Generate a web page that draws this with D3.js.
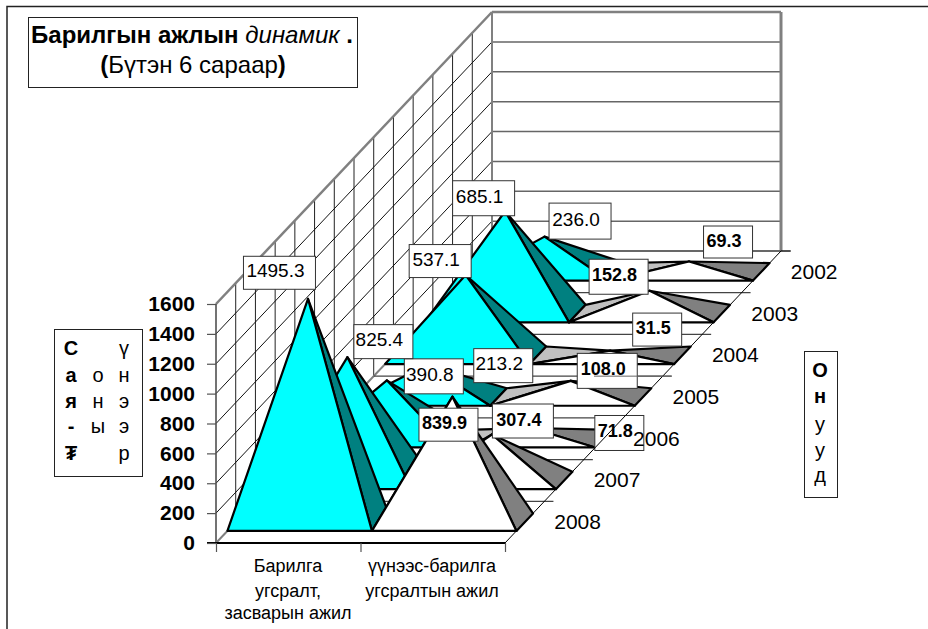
<!DOCTYPE html>
<html>
<head>
<meta charset="utf-8">
<script src="https://cdn.jsdelivr.net/npm/d3@7"></script>
<style>
html,body{margin:0;padding:0;background:#fff;}
text{font-family:"Liberation Sans",Arial,sans-serif;fill:#000;}
</style>
</head>
<body>
<script>
var years = ["2002","2003","2004","2005","2006","2007","2008"];
var categories = [["Барилга","угсралт,","засварын ажил"],["үүнээс-барилга","угсралтын ажил"]];
var repairWork = [236.0,685.1,537.1,213.2,390.8,825.4,1495.3];
var newBuildWork = [69.3,152.8,31.5,108.0,71.8,307.4,839.9];
var valueTicks = [0,200,400,600,800,1000,1200,1400,1600];

// label boxes are hand placed in the original, kept as offset from the apex: dx,dy,w,h
var repairBoxes = [[4,-34,62,36],[-53,-31,62,35],[-57,-31,62,33],[47,-17,59,34],[17,-22,59,35],[6,-33,59,34],[-65,-43,72,33]];
var newBuildBoxes = [[14,-36,49,32],[-61,-32,59,35],[22,-38,49,33],[6,-28,60,35],[63,-13,49,35],[0,-31,61,34],[-34,11,59,33]];

var width = 928, height = 629;
var svg = d3.select("body").append("svg").attr("width",width).attr("height",height).style("display","block");

var xScale = d3.scaleLinear().domain([0,2]).range([216,505]);
var yScale = d3.scaleLinear().domain([0,1600]).range([543,304]);
var zx = d3.scaleLinear().domain([0,7]).range([0,276]);   // depth -> px right
var zy = d3.scaleLinear().domain([0,7]).range([0,292]);   // depth -> px up

function pt(x,v,z){ return [xScale(x)+zx(z), yScale(v)-zy(z)]; }
function poly(g,pts,fill){
	g.append("polygon").attr("points",pts.map(function(p){ return p.join(","); }).join(" "))
		.attr("fill",fill).attr("stroke","#000").attr("stroke-width",2.2).attr("stroke-linejoin","round");
}
function seg(g,a,b,col,w){
	g.append("line").attr("x1",a[0]).attr("y1",a[1]).attr("x2",b[0]).attr("y2",b[1]).attr("stroke",col).attr("stroke-width",w);
}

//outer frame, only top and left show
svg.append("path").attr("d","M928,6.5H7V629").attr("fill","none").attr("stroke","#222").attr("stroke-width",1.5);

var walls = svg.append("g");
walls.append("polygon").attr("points",[pt(0,0,0),pt(0,1600,0),pt(0,1600,7),pt(0,0,7)].join(" ")).attr("fill","#fff");

//left wall grid
d3.range(1,14).forEach(function(k){ seg(walls,pt(0,0,k/2),pt(0,1600,k/2),"#222",1); });
valueTicks.forEach(function(v){ seg(walls,pt(0,v,0),pt(0,v,7),"#111",1); });
//back wall grid
valueTicks.forEach(function(v){ seg(walls,pt(0,v,7),pt(2,v,7),"#666",1.5); });
seg(walls,pt(0,1600,0),pt(0,1600,7),"#808080",2.5);
seg(walls,pt(0,1600,7),pt(2,1600,7),"#808080",2.5);
seg(walls,pt(0,0,7),pt(0,1600,7),"#808080",2);
seg(walls,pt(2,0,7),pt(2,1600,7),"#808080",3);
seg(walls,pt(0,0,0),pt(0,1600,0),"#444",1.5);
seg(walls,pt(0,0,0),pt(0,0,7),"#808080",2);

//floor lines run a bit past the right edge as depth ticks
d3.range(1,8).forEach(function(i){
	var end = pt(2,0,i);
	seg(walls,pt(0,0,i),[end[0]+9,end[1]],"#444",1.2);
});

//series, back to front
var depthFront = 0.29, depthMid = 0.5, depthBack = 0.71;
var marks = svg.append("g");
years.forEach(function(y,n){
	var z = years.length-1-n;
	var g = marks.append("g").attr("class","y"+y);
	var a1 = pt(0.5,repairWork[n],z+depthMid), a2 = pt(1.5,newBuildWork[n],z+depthMid);
	poly(g,[a1,pt(1,0,z+depthFront),pt(1,0,z+depthBack)],"#008080");
	poly(g,[pt(1,0,z+depthBack),pt(1,0,z+depthFront),a2],"#C0C0C0");
	poly(g,[a2,pt(2,0,z+depthFront),pt(2,0,z+depthBack)],"#808080");
	poly(g,[pt(0,0,z+depthFront),a1,pt(1,0,z+depthFront)],"#00FFFF");
	poly(g,[pt(1,0,z+depthFront),a2,pt(2,0,z+depthFront)],"#FFFFFF");
});

//axes
seg(svg,[207,yScale(0)],pt(2,0,0),"#000",2);
var yAxis = d3.axisLeft(yScale).tickValues(valueTicks).tickSize(9).tickPadding(12).tickFormat(d3.format("d"));
var yg = svg.append("g").attr("transform","translate(216,0)").call(yAxis);
yg.select(".domain").remove();
yg.selectAll("line").attr("stroke","#555").attr("stroke-width",1.2);
yg.selectAll("text").attr("font-size",21).attr("font-weight","bold").style("font-family",'"Liberation Sans",Arial,sans-serif');

var xAxis = d3.axisBottom(xScale).tickValues([0,1,2]).tickSize(9).tickFormat("");
var xg = svg.append("g").attr("transform","translate(0,"+yScale(0)+")").call(xAxis);
xg.select(".domain").remove();
xg.selectAll("line").attr("stroke","#555").attr("stroke-width",1.2);

//category labels
var catCenters = [288,432];
categories.forEach(function(lines,c){
	lines.forEach(function(t,i){
		svg.append("text").attr("x",catCenters[c]).attr("y",[572,597,619][i]).attr("text-anchor","middle").attr("font-size",18).text(t);
	});
});

//data labels
function label(v,n,cat,box,bold){
	var z = years.length-1-n+depthMid;
	var a = pt(cat,v,z);
	var g = svg.append("g");
	g.append("rect").attr("x",a[0]+box[0]+0.5).attr("y",a[1]+box[1]+0.5).attr("width",box[2]).attr("height",box[3])
		.attr("fill","#fff").attr("stroke","#333").attr("stroke-width",1);
	g.append("text").attr("x",a[0]+box[0]+box[2]/2-3.5).attr("y",a[1]+box[1]+box[3]/2+5).attr("text-anchor","middle")
		.attr("font-size",bold?18:19).attr("font-weight",bold?"bold":"normal").attr("class","val").text(v.toFixed(1));
}
repairWork.forEach(function(v,n){ label(v,n,0.5,repairBoxes[n],false); });
newBuildWork.forEach(function(v,n){ label(v,n,1.5,newBuildBoxes[n],true); });

//depth axis edge sits above the labels
seg(svg,pt(2,0,0),pt(2,0,7),"#000",1);
var t3 = pt(2,0,4);
seg(svg,[594,t3[1]],[t3[0]+9,t3[1]],"#666",1);
seg(svg,pt(2,0,7),[pt(2,0,7)[0]+10,pt(2,0,7)[1]],"#000",1);

//year labels
years.forEach(function(y,n){
	var p = pt(2,0,years.length-1-n+0.5);
	svg.append("text").attr("x",p[0]+29.5).attr("y",p[1]+7).attr("font-size",21).text(y);
});

//title box
svg.append("rect").attr("x",28.5).attr("y",17.5).attr("width",329).attr("height",70).attr("fill","#fff").attr("stroke","#222");
var t1 = svg.append("text").attr("x",192).attr("y",43).attr("text-anchor","middle").attr("font-size",24);
t1.append("tspan").attr("font-weight","bold").text("Барилгын ажлын ");
t1.append("tspan").attr("font-style","italic").text("динамик ");
t1.append("tspan").attr("font-weight","bold").text(".");
var t2 = svg.append("text").attr("x",193).attr("y",73).attr("text-anchor","middle").attr("font-size",24);
t2.append("tspan").attr("font-weight","bold").text("(");
t2.append("tspan").text("Бүтэн 6 сараар");
t2.append("tspan").attr("font-weight","bold").text(")");

//vertical unit box
svg.append("rect").attr("x",54.5).attr("y",329.5).attr("width",88).attr("height",147).attr("fill","#fff").attr("stroke","#222");
var unitCols = [{x:71,bold:true,rows:["С","а","я","-","₮"]},{x:98,bold:false,rows:["","о","н","ы",""]},{x:124,bold:false,rows:["ү","н","э","э","р"]}];
var unitRows = [355,382,408,433,460];
unitCols.forEach(function(c){
	c.rows.forEach(function(t,i){
		svg.append("text").attr("x",c.x).attr("y",unitRows[i]).attr("text-anchor","middle").attr("font-size",20)
			.attr("font-weight",c.bold?"bold":"normal").text(t);
	});
});

//years title box
svg.append("rect").attr("x",804.5).attr("y",351.5).attr("width",33).attr("height",146).attr("fill","#fff").attr("stroke","#222");
var yearWord = ["О","н","у","у","д"];
var yearRows = [377,403,431,457,482];
yearWord.forEach(function(t,i){
	svg.append("text").attr("x",820).attr("y",yearRows[i]).attr("text-anchor","middle").attr("font-size",20)
		.attr("font-weight",i<2?"bold":"normal").text(t);
});
</script>
</body>
</html>
